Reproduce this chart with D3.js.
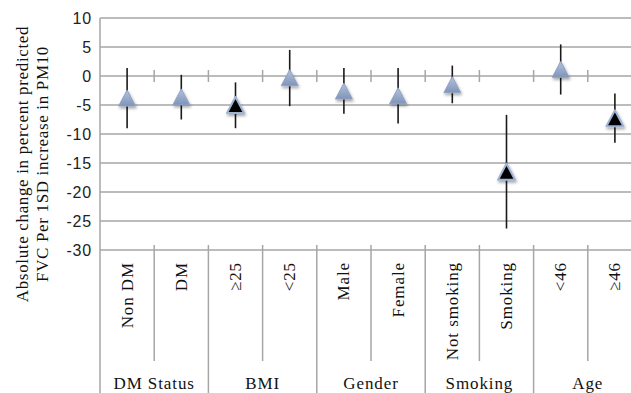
<!DOCTYPE html>
<html>
<head>
<meta charset="utf-8">
<script src="https://cdn.jsdelivr.net/npm/d3@7"></script>
<style>
html, body { margin: 0; padding: 0; background: #fff; }
svg { display: block; }
.serif { font-family: "Liberation Serif", "Times New Roman", Times, serif; }
.sans { font-family: "Liberation Sans", Arial, Helvetica, sans-serif; }
</style>
</head>
<body>
<svg id="chart" width="631" height="393"></svg>
<script>
const categories = ["Non DM", "DM", "≥25", "<25", "Male", "Female", "Not smoking", "Smoking", "<46", "≥46"];
const groups = ["DM Status", "BMI", "Gender", "Smoking", "Age"];
const groupOf = ["DM Status", "DM Status", "BMI", "BMI", "Gender", "Gender", "Smoking", "Smoking", "Age", "Age"];
const estimates = [-3.8, -3.6, -5.0, -0.3, -2.6, -3.4, -1.5, -16.5, 1.15, -7.3];
const upperCI = [1.4, 0.2, -1.1, 4.5, 1.4, 1.4, 1.8, -6.7, 5.45, -3.0];
const lowerCI = [-9.0, -7.5, -9.0, -5.2, -6.5, -8.2, -4.7, -26.3, -3.2, -11.5];
const significant = [false, false, true, false, false, false, false, true, false, true];
const yTicks = [10, 5, 0, -5, -10, -15, -20, -25, -30];
const yTitle = ["Absolute change in percent predicted", "FVC Per 1SD increase in PM10"];

const svg = d3.select("#chart");
const plotLeft = 100, plotRight = 642, plotTop = 18, plotBottom = 250;
const gridColor = "#a6a6a6";

const x = d3.scaleBand().domain(categories).range([plotLeft, plotRight]);
const y = d3.scaleLinear().domain([-30, 10]).range([plotBottom, plotTop]);

const defs = svg.append("defs");
const grad = defs.append("linearGradient").attr("id", "triFill").attr("x1", 0).attr("y1", 0).attr("x2", 0).attr("y2", 1);
grad.append("stop").attr("offset", "0%").attr("stop-color", "#b4c3dc");
grad.append("stop").attr("offset", "100%").attr("stop-color", "#7f94b9");
const filt = defs.append("filter").attr("id", "shadow").attr("x", "-50%").attr("y", "-50%").attr("width", "200%").attr("height", "200%");
filt.append("feDropShadow").attr("dx", 1).attr("dy", 2).attr("stdDeviation", 1.5).attr("flood-color", "#000").attr("flood-opacity", 0.35);

// gridlines
svg.append("g").selectAll("line").data(yTicks).join("line")
  .attr("x1", plotLeft).attr("x2", plotRight)
  .attr("y1", d => y(d)).attr("y2", d => y(d))
  .attr("stroke", gridColor).attr("stroke-width", 1.5);

// left axis line (extends through label area)
svg.append("line").attr("x1", plotLeft).attr("x2", plotLeft).attr("y1", plotTop).attr("y2", 393)
  .attr("stroke", gridColor).attr("stroke-width", 1.5);

// y tick labels
svg.append("g").selectAll("text").data(yTicks).join("text")
  .attr("class", "sans")
  .attr("x", plotLeft - 8).attr("y", d => y(d))
  .attr("text-anchor", "end").attr("dominant-baseline", "central")
  .attr("font-size", 16)
  .attr("letter-spacing", 0.8).attr("fill", "#222")
  .text(d => d);

// y title
const yt = svg.append("text")
  .attr("class", "serif")
  .attr("transform", `translate(0,${(26 + 302) / 2}) rotate(-90)`)
  .attr("text-anchor", "middle")
  .attr("font-size", 17)
  .attr("letter-spacing", 0.65).attr("fill", "#111");
yt.selectAll("tspan").data(yTitle).join("tspan")
  .attr("x", 0).attr("y", (d, i) => 28 + i * 20)
  .text(d => d);

// boundaries between categories
const boundaries = categories.slice(1).map((c, i) => ({
  x: x(c),
  groupEdge: groupOf[i] !== groupOf[i + 1]
}));

// small ticks at zero line
svg.append("g").selectAll("line").data(boundaries).join("line")
  .attr("x1", d => d.x).attr("x2", d => d.x)
  .attr("y1", y(0) - 6).attr("y2", y(0) + 6)
  .attr("stroke", gridColor).attr("stroke-width", 1.5);

// dividers in label area
svg.append("g").selectAll("line").data(boundaries).join("line")
  .attr("x1", d => d.x).attr("x2", d => d.x)
  .attr("y1", plotBottom - 5).attr("y2", d => d.groupEdge ? 393 : 361)
  .attr("stroke", gridColor).attr("stroke-width", 1.5);

const data = categories.map((c, i) => ({
  c, v: estimates[i], hi: upperCI[i], lo: lowerCI[i], sig: significant[i]
}));

// error bars
svg.append("g").selectAll("line").data(data).join("line")
  .attr("x1", d => x(d.c) + x.bandwidth() / 2).attr("x2", d => x(d.c) + x.bandwidth() / 2)
  .attr("y1", d => y(d.hi)).attr("y2", d => y(d.lo))
  .attr("stroke", "#1a1a1a").attr("stroke-width", 1.6);

// triangle markers
const tw = 8.5, th = 8;
const tri = d3.line()([[0, -th], [tw, th], [-tw, th]]) + "Z";
svg.append("g").selectAll("path").data(data).join("path")
  .attr("d", tri)
  .attr("transform", d => `translate(${x(d.c) + x.bandwidth() / 2},${y(d.v)})`)
  .attr("fill", d => d.sig ? "#000" : "url(#triFill)")
  .attr("stroke", d => d.sig ? "#9fb3d3" : "#8fa3c4")
  .attr("stroke-width", d => d.sig ? 2 : 1)
  .attr("stroke-linejoin", "round")
  .attr("filter", "url(#shadow)");

// category labels (rotated)
svg.append("g").selectAll("text").data(categories).join("text")
  .attr("class", "serif")
  .attr("transform", d => `translate(${x(d) + x.bandwidth() / 2},262) rotate(-90)`)
  .attr("text-anchor", "end").attr("dominant-baseline", "central")
  .attr("font-size", 17)
  .attr("letter-spacing", 0.9).attr("fill", "#111")
  .text(d => d);

// group labels
const groupCenters = groups.map(g => {
  const cats = categories.filter((c, i) => groupOf[i] === g);
  const x0 = x(cats[0]), x1 = x(cats[cats.length - 1]) + x.bandwidth();
  return { g, cx: (x0 + x1) / 2 };
});
svg.append("g").selectAll("text").data(groupCenters).join("text")
  .attr("class", "serif")
  .attr("x", d => d.cx).attr("y", 389)
  .attr("text-anchor", "middle")
  .attr("font-size", 17)
  .attr("letter-spacing", 0.9).attr("fill", "#111")
  .text(d => d.g);
</script>
</body>
</html>
